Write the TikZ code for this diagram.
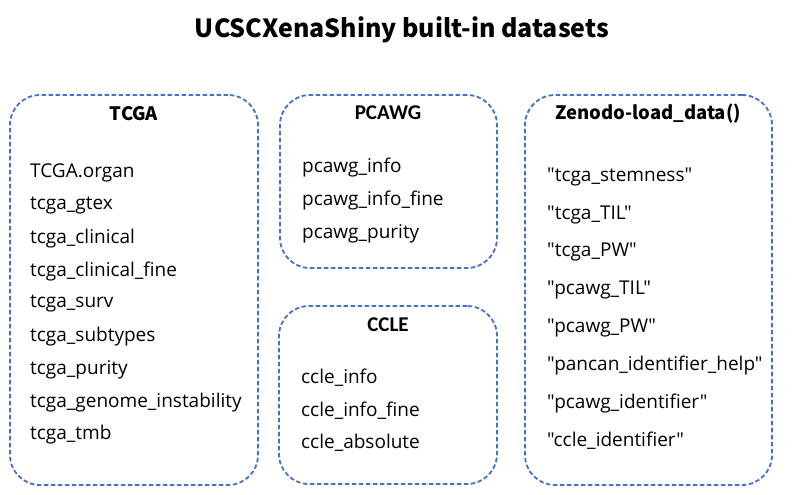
\documentclass[tikz,border=0pt]{standalone}
\usepackage{fontspec}
\setmainfont{Noto Sans CJK SC}
\newfontfamily\bodyfont{Open Sans}[Ligatures=TeXOff]
\newfontfamily\calfont{Carlito}
\usepackage{xcolor}
\definecolor{panelblue}{HTML}{4472C4}
\usetikzlibrary{positioning}

\tikzset{
    panel/.style={draw=panelblue, line width=1.8pt, dash pattern=on 4.5pt off 2.5pt, rounded corners=30pt, inner sep=0pt},
    head/.style={font=\fontsize{18.5}{20}\selectfont\bfseries, anchor=center},
    item/.style={font=\bodyfont\fontsize{19}{22}\selectfont, anchor=west, inner sep=0pt}
}

\begin{document}
\begin{tikzpicture}[x=1pt,y=-1pt]
    \useasboundingbox (0,0) rectangle (795,495);
    % Title
    \node[font=\fontsize{25}{28}\selectfont\bfseries] (title) at (402,30) {UCSCXenaShiny built-in datasets};
    % Panels
    \node[panel, minimum width=248pt, minimum height=390pt] (tcga) at (134,290) {};
    \node[panel, minimum width=217pt, minimum height=173pt] (pcawg) at (388.5,181.5) {};
    \node[panel, minimum width=218pt, minimum height=178pt] (ccle) at (388,395) {};
    \node[panel, minimum width=247pt, minimum height=390pt] (zenodo) at (648.5,290) {};
    % Headings
    \node[head] (tcgahead) at (134,114) {TCGA};
    \node[head, font=\calfont\fontsize{21}{22}\selectfont\bfseries] (pcawghead) at (388,113) {PCAWG};
    \node[head, font=\calfont\fontsize{21}{22}\selectfont\bfseries] (cclehead) at (388,325) {CCLE};
    \node[head] (zenodohead) at (648,114) {Zenodo-load\_data()};
    % Items
    \foreach \txt [count=\i] in {TCGA.organ, tcga\_gtex, tcga\_clinical, tcga\_clinical\_fine, tcga\_surv, tcga\_subtypes, tcga\_purity, tcga\_genome\_instability, tcga\_tmb} {%
        \node[item] (tcga\i) at (30,{173+32.75*(\i-1)}) {\txt};
    }
    \foreach \txt [count=\i] in {pcawg\_info, pcawg\_info\_fine, pcawg\_purity} {%
        \node[item] (pcawg\i) at (302,{168+33*(\i-1)}) {\txt};
    }
    \foreach \txt [count=\i] in {ccle\_info, ccle\_info\_fine, ccle\_absolute} {%
        \node[item] (ccle\i) at (301,{378+32.5*(\i-1)}) {\txt};
    }
    \foreach \txt [count=\i] in {"tcga\_stemness", "tcga\_TIL", "tcga\_PW", "pcawg\_TIL", "pcawg\_PW", "pancan\_identifier\_help", "pcawg\_identifier", "ccle\_identifier"} {%
        \node[item] (zenodo\i) at (547,{177+37.7*(\i-1)}) {\txt};
    }
\end{tikzpicture}
\end{document}
